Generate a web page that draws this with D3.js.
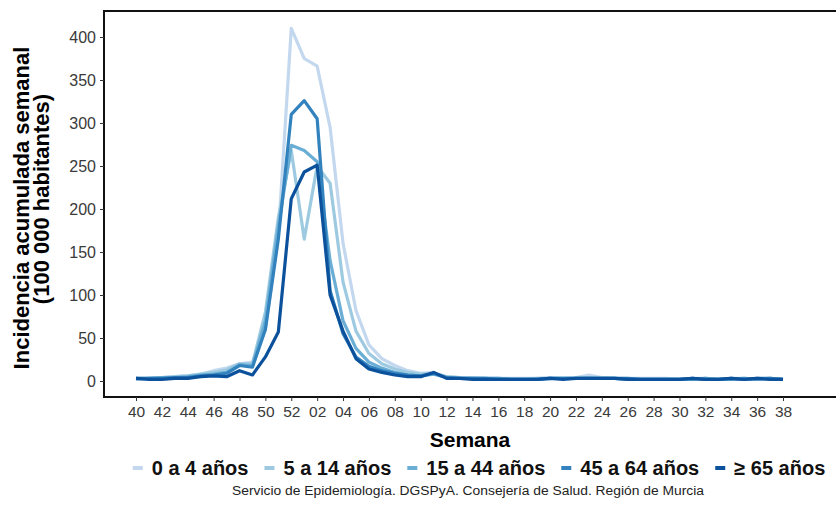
<!DOCTYPE html>
<html>
<head>
<meta charset="utf-8">
<script src="https://cdnjs.cloudflare.com/ajax/libs/d3/7.8.5/d3.min.js"></script>
<style>
  body { margin: 0; background: #fff; }
  text { font-family: "Liberation Sans", Arial, sans-serif; }
</style>
</head>
<body>
<div id="chart"></div>
<script>
var width = 836, height = 513;

// epidemiological weeks, season 40 -> 38
var weeks = ["40","41","42","43","44","45","46","47","48","49","50","51","52",
  "01","02","03","04","05","06","07","08","09","10","11","12","13","14","15","16","17","18","19","20",
  "21","22","23","24","25","26","27","28","29","30","31","32","33","34","35","36","37","38"];
var tickLabels = weeks.filter(function(d, i) { return i % 2 == 0; });

var groups = ["0 a 4 años", "5 a 14 años", "15 a 44 años", "45 a 64 años", "\u2265 65 años"];
var colors = ["#c3d8ee", "#9ecae1", "#6aaed6", "#3282bd", "#0b519c"];

var age0_4 = [2,3,4,5,6,8,12,15,20,22,60,170,410,375,366,295,160,82,42,26,18,12,9,10,5,
  4,4,3,3,3,3,3,4,3,4,7,4,3,3,3,3,3,2,3,3,2,3,3,2,3,2];
var age5_14 = [2,3,4,5,6,8,10,13,20,20,80,190,268,165,250,230,115,58,32,20,14,10,8,9,5,
  4,3,3,3,2,2,3,3,3,3,4,3,3,2,2,2,2,2,2,3,2,2,3,2,2,2];
var age15_44 = [3,3,4,4,5,7,8,10,19,18,70,180,274,268,255,140,70,38,22,15,10,7,6,8,4,
  3,3,3,3,2,2,2,3,3,3,3,3,3,2,2,2,2,2,2,3,2,2,3,2,3,2];
var age45_64 = [3,3,3,4,4,6,7,9,18,16,60,165,310,326,305,105,55,28,17,12,9,7,6,9,4,
  3,3,3,2,2,2,2,3,3,3,3,3,3,3,2,2,2,2,3,2,2,3,2,3,3,2];
var age65 = [3,2,2,3,3,5,6,5,12,7,28,57,212,243,251,100,58,26,14,10,7,5,5,10,3,
  3,2,2,2,2,2,2,3,2,3,3,3,3,2,2,2,2,2,3,2,2,3,2,3,2,2];
var series = [age0_4, age5_14, age15_44, age45_64, age65];

var svg = d3.select("#chart").append("svg")
  .attr("width", width)
  .attr("height", height);

var panel = { left: 104, top: 11, right: 850, bottom: 397 };

var x = d3.scalePoint().domain(weeks).range([136, 783]);
var y = d3.scaleLinear().domain([0, 400]).range([381, 37]);

// panel border (right side falls outside the picture)
svg.append("rect")
  .attr("x", panel.left).attr("y", panel.top)
  .attr("width", panel.right - panel.left).attr("height", panel.bottom - panel.top)
  .attr("fill", "none").attr("stroke", "#111").attr("stroke-width", 2);

// y axis
var yAxis = svg.append("g")
  .attr("transform", "translate(" + panel.left + ",0)")
  .call(d3.axisLeft(y).tickValues(d3.range(0, 401, 50)).tickSize(4).tickPadding(4));
yAxis.select(".domain").remove();
yAxis.selectAll("line").attr("stroke", "#333");
yAxis.selectAll("text").attr("fill", "#3a3a3a").style("font-size", "16px");

// x axis
var xAxis = svg.append("g")
  .attr("transform", "translate(0," + panel.bottom + ")")
  .call(d3.axisBottom(x).tickValues(tickLabels).tickSize(4).tickPadding(5));
xAxis.select(".domain").remove();
xAxis.selectAll("line").attr("stroke", "#333");
xAxis.selectAll("text").attr("fill", "#3a3a3a").style("font-size", "15.5px");

// lines
var line = d3.line()
  .x(function(d, i) { return x(weeks[i]); })
  .y(function(d) { return y(d); });

svg.append("g").selectAll("path")
  .data(series)
  .enter().append("path")
  .attr("d", line)
  .attr("fill", "none")
  .attr("stroke", function(d, i) { return colors[i]; })
  .attr("stroke-width", 3.2)
  .attr("stroke-linejoin", "round");

// axis titles
svg.append("text")
  .attr("transform", "translate(29,208) rotate(-90)")
  .style("text-anchor", "middle")
  .style("font-size", "22px").style("font-weight", "bold")
  .text("Incidencia acumulada semanal");
svg.append("text")
  .attr("transform", "translate(49,199) rotate(-90)")
  .style("text-anchor", "middle")
  .style("font-size", "22px").style("font-weight", "bold")
  .text("(100 000 habitantes)");

svg.append("text")
  .attr("x", 470).attr("y", 447)
  .style("text-anchor", "middle")
  .style("font-size", "21px").style("font-weight", "bold")
  .text("Semana");

// legend
var legend = svg.append("g");
var lx = 0;
groups.forEach(function(g, i) {
  var item = legend.append("g").attr("transform", "translate(" + lx + ",0)");
  item.append("line")
    .attr("x1", 0).attr("x2", 10)
    .attr("y1", 0).attr("y2", 0)
    .attr("stroke", colors[i]).attr("stroke-width", 4);
  var t = item.append("text")
    .attr("x", 19).attr("y", 7)
    .style("font-size", "20px").style("font-weight", "bold")
    .attr("fill", "#111")
    .text(g);
  lx += 19 + t.node().getComputedTextLength() + 16;
});
lx -= 16;
legend.attr("transform", "translate(" + (479 - lx / 2) + ",468)");

// source note
svg.append("text")
  .attr("x", 468).attr("y", 495)
  .style("text-anchor", "middle")
  .style("font-size", "12.5px")
  .attr("textLength", 472)
  .attr("lengthAdjust", "spacingAndGlyphs")
  .attr("fill", "#222")
  .text("Servicio de Epidemiología. DGSPyA. Consejería de Salud. Región de Murcia");
</script>
</body>
</html>
